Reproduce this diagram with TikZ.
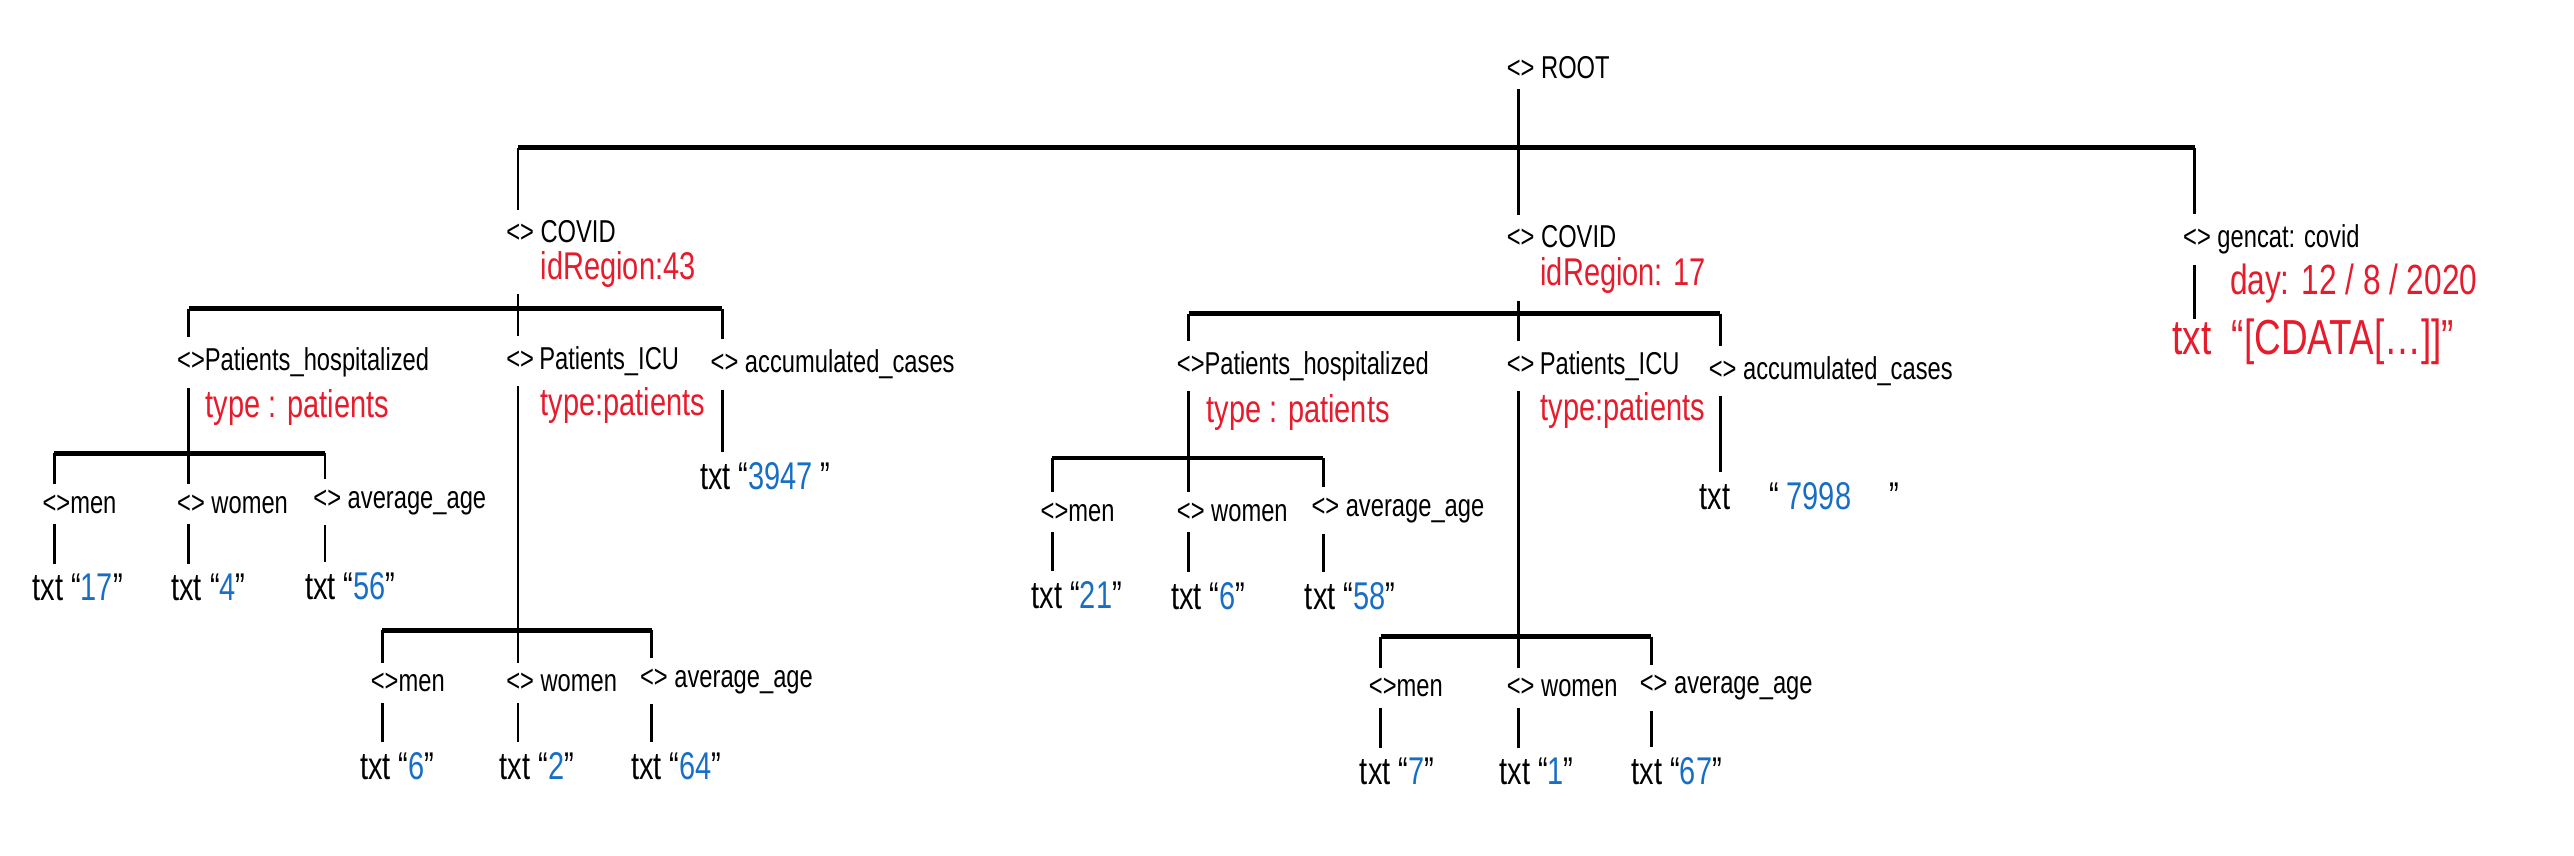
\documentclass[tikz,border=0pt]{standalone}
\usepackage{fontspec}
\setmainfont{Liberation Sans}[FakeStretch=0.75]
\usepackage{tikz}
\definecolor{attrred}{RGB}{230,28,44}
\definecolor{valblue}{RGB}{24,110,196}
\newcommand{\blueval}[1]{\textcolor{valblue}{#1}}
\tikzset{
  tag/.style={anchor=west, inner sep=0pt, outer ysep=3pt, font=\fontsize{9}{10}\selectfont},
  attr/.style={anchor=west, inner sep=0pt, outer ysep=2pt, text=attrred, font=\fontsize{11}{12}\selectfont},
  leaf/.style={anchor=west, inner sep=0pt, outer ysep=3pt, font=\fontsize{11}{12}\selectfont},
  stem/.style={line width=0.8pt},
  bar/.style={line width=1.4pt},
}

\begin{document}
\begin{tikzpicture}[x=0.016416cm, y=-0.016416cm]
\useasboundingbox (0,0) rectangle (1568,521);

% bar heights
\coordinate (b0) at (0,90);
\coordinate (b1) at (0,188);
\coordinate (b2) at (0,191);
\coordinate (b3) at (0,276);
\coordinate (b4) at (0,384);
\coordinate (b5) at (0,279);
\coordinate (b6) at (0,388);

% root and first level
\node[tag] (root) at (917.5,41) {<> ROOT};
\node[tag] (c1) at (308,141) {<> COVID};
\node[attr] (r1) at (329,164) {idRegion:43};
\node[tag] (c2) at (917.5,144) {<> COVID};
\node[attr] (r2) at (938,168) {idRegion: 17};
\node[tag] (gc) at (1329.5,146) {<> gencat: covid};
\node[attr, font=\fontsize{12}{13}\selectfont] (day) at (1358,173) {day: 12 / 8 / 2020};
\node[leaf, outer ysep=0pt, text=attrred, font=\fontsize{14}{15}\selectfont] (cdata) at (1323,208) {txt\ \ ``[CDATA[\dots]]''};

% left COVID
\node[tag] (h1) at (107.5,221) {<>Patients\_hospitalized};
\node[attr] (t1) at (125,248) {type : patients};
\node[tag] (i1) at (308,220) {<>\,Patients\_ICU};
\node[attr] (t2) at (329,247) {type:patients};
\node[tag] (a1) at (432.5,222) {<> accumulated\_cases};
\node[leaf] (v1) at (426,290) {txt ``\blueval{3947}\ ''};

\node[tag] (m1) at (25.5,307) {<>men};
\node[tag] (w1) at (107.5,307) {<> women};
\node[tag] (g1) at (190.5,306) {<> average\_age};
\node[leaf] (v2) at (19.4,358) {txt ``\blueval{17}''};
\node[leaf] (v3) at (104,358) {txt ``\blueval{4}''};
\node[leaf] (v4) at (185.5,357) {txt ``\blueval{56}''};

\node[tag] (m2) at (225.5,416) {<>men};
\node[tag] (w2) at (308,416) {<> women};
\node[tag] (g2) at (389.5,415) {<> average\_age};
\node[leaf] (v5) at (219,467) {txt ``\blueval{6}''};
\node[leaf] (v6) at (304,467) {txt ``\blueval{2}''};
\node[leaf] (v7) at (384,467) {txt ``\blueval{64}''};

% middle COVID
\node[tag] (h2) at (716.5,223) {<>Patients\_hospitalized};
\node[attr] (t3) at (734.5,251) {type : patients};
\node[tag] (i2) at (917.5,223) {<>\,Patients\_ICU};
\node[attr] (t4) at (938,250) {type:patients};
\node[tag] (a2) at (1040.5,226) {<> accumulated\_cases};
\node[leaf] (v8) at (1035,302) {txt\quad``\ \blueval{7998}\quad''};

\node[tag] (m3) at (633.5,312) {<>men};
\node[tag] (w3) at (716.5,312) {<> women};
\node[tag] (g3) at (798.5,311) {<> average\_age};
\node[leaf] (v9) at (628,362.5) {txt ``\blueval{21}''};
\node[leaf] (v10) at (713,363) {txt ``\blueval{6}''};
\node[leaf] (v11) at (794.5,363) {txt ``\blueval{58}''};

\node[tag] (m4) at (833.5,419) {<>men};
\node[tag] (w4) at (917.5,419) {<> women};
\node[tag] (g4) at (998.5,419) {<> average\_age};
\node[leaf] (v12) at (828,470) {txt ``\blueval{7}''};
\node[leaf] (v13) at (913,470) {txt ``\blueval{1}''};
\node[leaf] (v14) at (993.5,470) {txt ``\blueval{67}''};

% top level connectors
\draw[bar] ([xshift=3.5pt]c1.west |- b0) -- ([xshift=3.5pt]gc.west |- b0);
\draw[stem] ([xshift=3.5pt]c1.west |- b0) -- ([xshift=3.5pt]c1.north west);
\draw[stem] ([xshift=3.5pt]root.south west) -- ([xshift=3.5pt]c2.north west);
\draw[stem] ([xshift=3.5pt]gc.west |- b0) -- ([xshift=3.5pt]gc.north west);
\draw[stem] ([xshift=3.5pt]gc.south west) -- ([xshift=3.5pt]gc.west |- cdata.north);

% left COVID connectors
\draw[bar] ([xshift=3.5pt]h1.west |- b1) -- ([xshift=3.5pt]a1.west |- b1);
\draw[stem] ([xshift=3.5pt]c1.west |- r1.south) -- ([xshift=3.5pt]i1.north west);
\draw[stem] ([xshift=3.5pt]h1.west |- b1) -- ([xshift=3.5pt]h1.north west);
\draw[stem] ([xshift=3.5pt]a1.west |- b1) -- ([xshift=3.5pt]a1.north west);
\draw[stem] ([xshift=3.5pt]a1.south west) -- ([xshift=3.5pt]a1.west |- v1.north);

\draw[bar] ([xshift=3.5pt]m1.west |- b3) -- ([xshift=3.5pt]g1.west |- b3);
\draw[stem] ([xshift=3.5pt]h1.south west) -- ([xshift=3.5pt]w1.north west);
\draw[stem] ([xshift=3.5pt]m1.west |- b3) -- ([xshift=3.5pt]m1.north west);
\draw[stem] ([xshift=3.5pt]g1.west |- b3) -- ([xshift=3.5pt]g1.north west);

\draw[bar] ([xshift=3.5pt]m2.west |- b4) -- ([xshift=3.5pt]g2.west |- b4);
\draw[stem] ([xshift=3.5pt]i1.south west) -- ([xshift=3.5pt]w2.north west);
\draw[stem] ([xshift=3.5pt]m2.west |- b4) -- ([xshift=3.5pt]m2.north west);
\draw[stem] ([xshift=3.5pt]g2.west |- b4) -- ([xshift=3.5pt]g2.north west);

% middle COVID connectors
\draw[bar] ([xshift=3.5pt]h2.west |- b2) -- ([xshift=3.5pt]a2.west |- b2);
\draw[stem] ([xshift=3.5pt]c2.west |- r2.south) -- ([xshift=3.5pt]i2.north west);
\draw[stem] ([xshift=3.5pt]h2.west |- b2) -- ([xshift=3.5pt]h2.north west);
\draw[stem] ([xshift=3.5pt]a2.west |- b2) -- ([xshift=3.5pt]a2.north west);
\draw[stem] ([xshift=3.5pt]a2.south west) -- ([xshift=3.5pt]a2.west |- v8.north);

\draw[bar] ([xshift=3.5pt]m3.west |- b5) -- ([xshift=3.5pt]g3.west |- b5);
\draw[stem] ([xshift=3.5pt]h2.south west) -- ([xshift=3.5pt]w3.north west);
\draw[stem] ([xshift=3.5pt]m3.west |- b5) -- ([xshift=3.5pt]m3.north west);
\draw[stem] ([xshift=3.5pt]g3.west |- b5) -- ([xshift=3.5pt]g3.north west);

\draw[bar] ([xshift=3.5pt]m4.west |- b6) -- ([xshift=3.5pt]g4.west |- b6);
\draw[stem] ([xshift=3.5pt]i2.south west) -- ([xshift=3.5pt]w4.north west);
\draw[stem] ([xshift=3.5pt]m4.west |- b6) -- ([xshift=3.5pt]m4.north west);
\draw[stem] ([xshift=3.5pt]g4.west |- b6) -- ([xshift=3.5pt]g4.north west);

% tags down to their txt values
\foreach \p/\v in {m1/v2, w1/v3, g1/v4, m2/v5, w2/v6, g2/v7,
                   m3/v9, w3/v10, g3/v11, m4/v12, w4/v13, g4/v14}
  \draw[stem] ([xshift=3.5pt]\p.south west) -- ([xshift=3.5pt]\p.west |- \v.north);
\end{tikzpicture}
\end{document}
